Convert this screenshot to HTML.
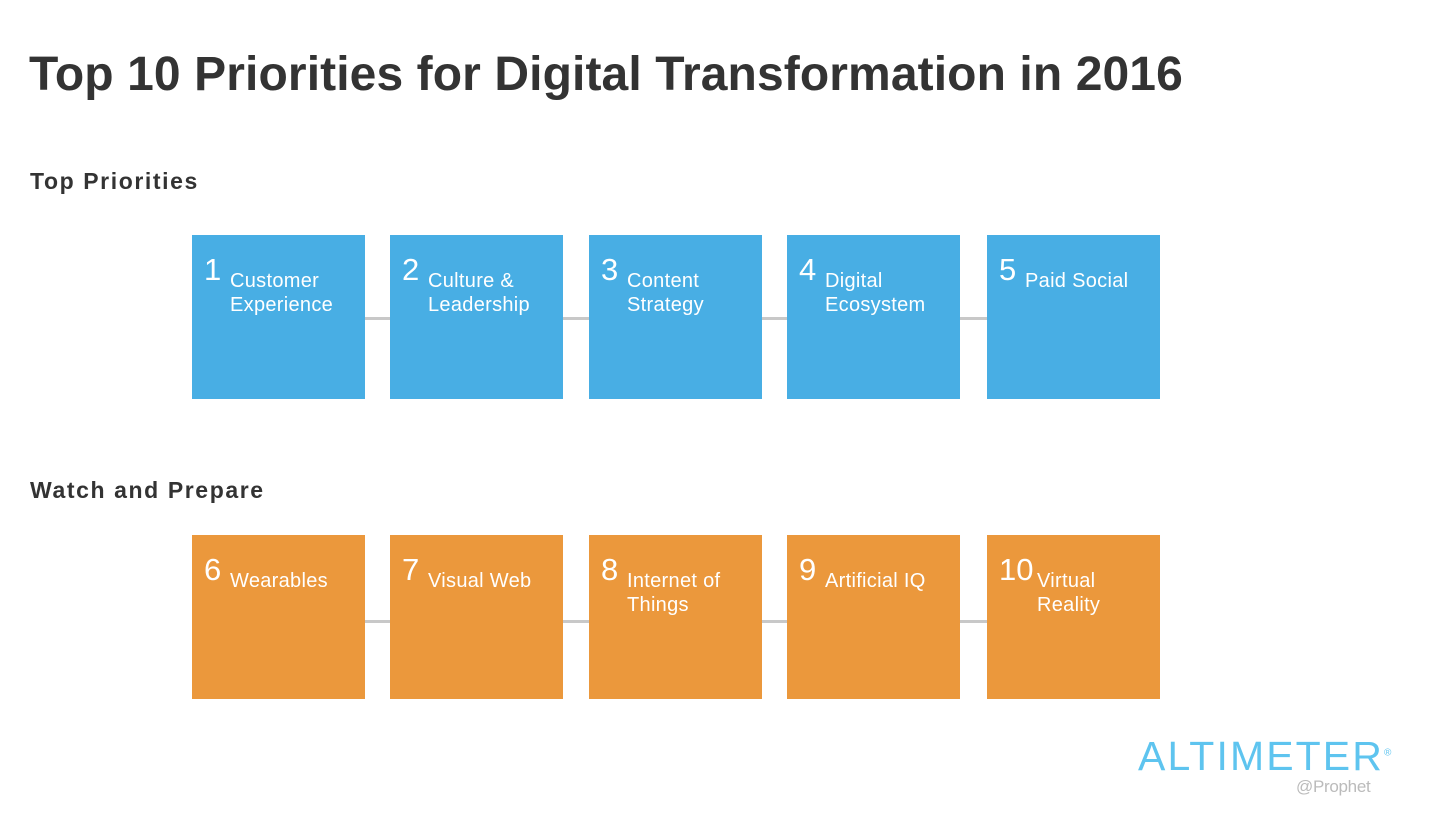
<!DOCTYPE html>
<html><head><meta charset="utf-8"><style>
body{margin:0;width:1432px;height:814px;background:#fff;position:relative;overflow:hidden;font-family:"Liberation Sans",Arial,sans-serif;color:#333}
.t{position:absolute;left:29px;top:47px;font-size:48px;line-height:55px;font-weight:bold;margin:0;white-space:nowrap;letter-spacing:0.1px}
.s{position:absolute;left:30px;font-size:23px;font-weight:bold;letter-spacing:1.6px}
.line{position:absolute;height:3px;background:#c8c8c8}
.box{position:absolute;width:173px;height:164px;color:#fff}
.num{position:absolute;left:12px;top:18px;font-size:31px;line-height:34px}
.lab{position:absolute;top:34px;font-size:20px;line-height:24px;letter-spacing:0.3px}
.b{background:#48aee4}.o{background:#eb983c}
</style></head><body>
<h1 class="t">Top 10 Priorities for Digital Transformation in 2016</h1>
<div class="s" style="top:168px">Top Priorities</div>
<div class="s" style="top:477px">Watch and Prepare</div>
<div class="line" style="left:192px;width:968px;top:317px"></div>
<div class="line" style="left:192px;width:968px;top:620px"></div>
<div id="boxes"></div>
<div style="position:absolute;left:1138px;top:733px;font-size:41px;color:#5ec4ef;letter-spacing:2.1px">ALTIMETER<sup style="font-size:10px">®</sup></div>
<div style="position:absolute;left:1296px;top:777px;font-size:17px;color:#bbb;letter-spacing:-0.3px">@Prophet</div>
<script>
const nums=[1,2,3,4,5,6,7,8,9,10];
const labels=[["Customer","Experience"],["Culture &","Leadership"],["Content","Strategy"],["Digital","Ecosystem"],["Paid Social"],["Wearables"],["Visual Web"],["Internet of","Things"],["Artificial IQ"],["Virtual","Reality"]];
const lefts=[192,390,589,787,987];
const c=document.getElementById('boxes');
nums.forEach((n,i)=>{
 const d=document.createElement('div');
 d.className='box '+(i<5?'b':'o');
 d.style.left=lefts[i%5]+'px';d.style.top=(i<5?235:535)+'px';
 
 
 const lx=n>=10?50:38;
 d.innerHTML='<span class="num">'+n+'</span><span class="lab" style="left:'+lx+'px">'+labels[i].join('<br>')+'</span>';
 c.appendChild(d);
});
</script>
</body></html>
